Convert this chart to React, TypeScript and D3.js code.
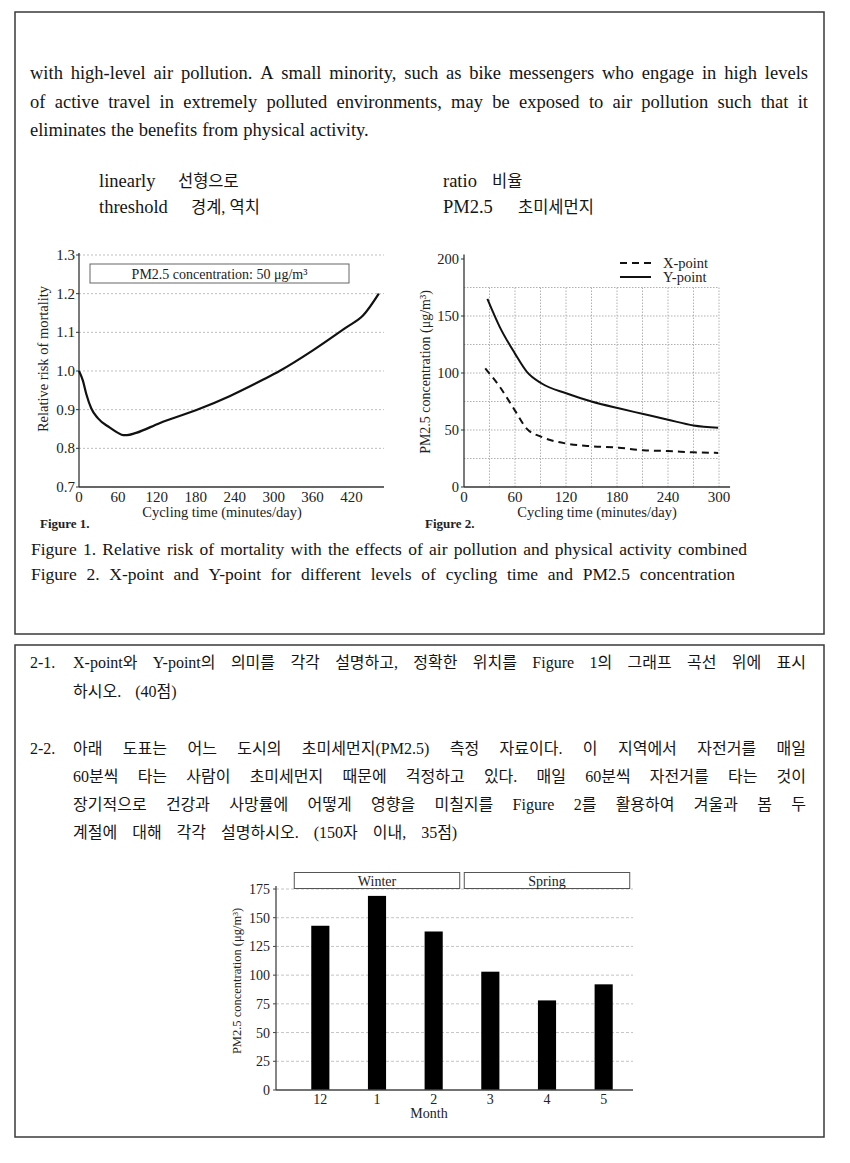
import React from 'react';
import * as d3 from 'd3';

const SERIF = "'Liberation Serif', 'Times New Roman', serif";
const MIX = "'Liberation Serif', 'Noto Sans CJK KR', serif";

// ---------- text content ----------
const passageLines = [
  'with high-level air pollution. A small minority, such as bike messengers who engage in high levels',
  'of active travel in extremely polluted environments, may be exposed to air pollution such that it',
  'eliminates the benefits from physical activity.',
];
const vocabLeft = [
  ['linearly', '선형으로'],
  ['threshold', '경계, 역치'],
];
const vocabRight = [
  ['ratio', '비율'],
  ['PM2.5', '초미세먼지'],
];
const captions = [
  'Figure 1. Relative risk of mortality with the effects of air pollution and physical activity combined',
  'Figure 2. X-point and Y-point for different levels of cycling time and PM2.5 concentration',
];
const q1Num = '2-1.';
const q1Lines = [
  'X-point와 Y-point의 의미를 각각 설명하고, 정확한 위치를 Figure 1의 그래프 곡선 위에 표시',
  '하시오. (40점)',
];
const q2Num = '2-2.';
const q2Lines = [
  '아래 도표는 어느 도시의 초미세먼지(PM2.5) 측정 자료이다. 이 지역에서 자전거를 매일',
  '60분씩 타는 사람이 초미세먼지 때문에 걱정하고 있다. 매일 60분씩 자전거를 타는 것이',
  '장기적으로 건강과 사망률에 어떻게 영향을 미칠지를 Figure 2를 활용하여 겨울과 봄 두',
  '계절에 대해 각각 설명하시오. (150자 이내, 35점)',
];

// ---------- Figure 1 data ----------
const fig1XTicks = [0, 60, 120, 180, 240, 300, 360, 420];
const fig1YTicks = [0.7, 0.8, 0.9, 1.0, 1.1, 1.2, 1.3];
const fig1Time = [0, 6, 11, 19, 29, 47, 60, 68, 74, 88, 124, 181, 232, 284, 309, 361, 412, 438, 462];
const fig1Risk = [1.0, 0.975, 0.942, 0.903, 0.878, 0.854, 0.84, 0.834, 0.834, 0.84, 0.865, 0.899, 0.935, 0.978, 1.0, 1.054, 1.113, 1.144, 1.2];
const fig1Legend = 'PM2.5 concentration: 50 μg/m³';

// ---------- Figure 2 data ----------
const fig2XTicks = [0, 60, 120, 180, 240, 300];
const fig2YTicks = [0, 50, 100, 150, 200];
const fig2XGrid = [30, 60, 90, 120, 150, 180, 210, 240, 270, 300];
const fig2YGrid = [25, 50, 75, 100, 125, 150, 175];
const xPointTime = [25, 42, 60, 74, 91, 121, 150, 182, 211, 240, 270, 299];
const xPointConc = [104, 88, 67, 51, 44, 38, 35.7, 34.5, 32.2, 31.6, 30.4, 29.9];
const yPointTime = [27.5, 42, 60, 74, 91, 121, 150, 182, 211, 240, 270, 299];
const yPointConc = [165, 140.5, 117, 101, 91, 82, 75, 69, 64, 59, 54, 52];

// ---------- Bar chart data ----------
const months = ['12', '1', '2', '3', '4', '5'];
const monthlyPM = [143, 169, 138, 103, 78, 92];
const seasonNames = ['Winter', 'Spring'];
const seasonMonths = [['12', '1', '2'], ['3', '4', '5']];
const barYTicks = [0, 25, 50, 75, 100, 125, 150, 175];

// ---------- helpers ----------
let _ctx: CanvasRenderingContext2D | null = null;
function textWidth(s: string, size: number, family: string) {
  if (!_ctx) _ctx = document.createElement('canvas').getContext('2d');
  _ctx!.font = `normal ${size}px ${family}`;
  return _ctx!.measureText(s).width;
}

function JLine({ text, x, y, width, size, family, justify = true, space = 0 }: any) {
  const words = text.split(' ');
  const ws = words.map((w: string) => textWidth(w, size, family));
  let gap: number;
  let s = 1;
  if (!justify || words.length < 2) {
    gap = space || size * 0.3;
  } else {
    const total = d3.sum(ws) as number;
    const minGap = size * 0.22;
    gap = (width - total) / (words.length - 1);
    if (gap < minGap) {
      gap = minGap;
      s = (width - minGap * (words.length - 1)) / total;
    }
  }
  let cx = x;
  return (
    <g>
      {words.map((w: string, i: number) => {
        const px = cx;
        cx += ws[i] * s + gap;
        return (
          <text
            key={i}
            x={px}
            y={y}
            fontSize={size}
            fontFamily={family}
            fill="#151515"
            textLength={s < 1 ? ws[i] * s : undefined}
            lengthAdjust="spacingAndGlyphs"
          >
            {w}
          </text>
        );
      })}
    </g>
  );
}

// ---------- Figure 1 ----------
function Figure1() {
  const x = d3.scaleLinear().domain([0, 470]).range([79, 384]);
  const y = d3.scaleLinear().domain([0.7, 1.3]).range([487, 255]);
  const pts = fig1Time.map((t, i) => [t, fig1Risk[i]] as [number, number]);
  const line = d3
    .line<[number, number]>()
    .x((d) => x(d[0]))
    .y((d) => y(d[1]))
    .curve(d3.curveMonotoneX);
  return (
    <g fontFamily={SERIF} fill="#222">
      {fig1YTicks.slice(1).map((v) => (
        <line key={v} x1={x(0)} x2={x(470)} y1={y(v)} y2={y(v)} stroke="#bdbdbd" strokeWidth={1} strokeDasharray="2,2" />
      ))}
      <line x1={x(0)} x2={x(0)} y1={y(0.7)} y2={y(1.3) - 2} stroke="#333" strokeWidth={1.3} />
      <line x1={x(0)} x2={x(470)} y1={y(0.7)} y2={y(0.7)} stroke="#333" strokeWidth={1.3} />
      {fig1YTicks.map((v) => (
        <g key={v}>
          <line x1={x(0) - 3} x2={x(0)} y1={y(v)} y2={y(v)} stroke="#333" />
          <text x={x(0) - 4} y={y(v) + 5} fontSize={15} textAnchor="end">
            {v.toFixed(1)}
          </text>
        </g>
      ))}
      {fig1XTicks.map((v) => (
        <text key={v} x={x(v)} y={502} fontSize={15} textAnchor="middle">
          {v}
        </text>
      ))}
      <text x={222} y={517} fontSize={14.5} textAnchor="middle">
        Cycling time (minutes/day)
      </text>
      <text transform={`translate(48,359) rotate(-90)`} fontSize={14.5} textAnchor="middle">
        Relative risk of mortality
      </text>
      <rect x={90} y={264} width={259} height={19} fill="#fff" stroke="#666" strokeWidth={1} />
      <text x={219.5} y={278.5} fontSize={14} textAnchor="middle">
        {fig1Legend}
      </text>
      <path d={line(pts) || ''} fill="none" stroke="#111" strokeWidth={2.2} strokeLinejoin="round" />
      <text x={40} y={528} fontSize={13} fontWeight="bold">
        Figure 1.
      </text>
    </g>
  );
}

// ---------- Figure 2 ----------
function Figure2() {
  const x = d3.scaleLinear().domain([0, 300]).range([464, 719]);
  const y = d3.scaleLinear().domain([0, 200]).range([487, 259]);
  const line = d3
    .line<[number, number]>()
    .x((d) => x(d[0]))
    .y((d) => y(d[1]))
    .curve(d3.curveMonotoneX);
  const xp = xPointTime.map((t, i) => [t, xPointConc[i]] as [number, number]);
  const yp = yPointTime.map((t, i) => [t, yPointConc[i]] as [number, number]);
  return (
    <g fontFamily={SERIF} fill="#222">
      {fig2YGrid.map((v) => (
        <line key={'h' + v} x1={x(0)} x2={x(300)} y1={y(v)} y2={y(v)} stroke="#b0b0b0" strokeWidth={1} strokeDasharray="1.5,1.5" />
      ))}
      {fig2XGrid.map((v) => (
        <line key={'v' + v} x1={x(v)} x2={x(v)} y1={y(0)} y2={y(175)} stroke="#b0b0b0" strokeWidth={1} strokeDasharray="1.5,1.5" />
      ))}
      <line x1={x(0)} x2={x(0)} y1={y(0)} y2={y(204)} stroke="#333" strokeWidth={1.3} />
      <line x1={x(0)} x2={x(313)} y1={y(0)} y2={y(0)} stroke="#333" strokeWidth={1.3} />
      {fig2YTicks.map((v) => (
        <g key={v}>
          <line x1={x(0) - 3} x2={x(0)} y1={y(v)} y2={y(v)} stroke="#333" />
          <text x={x(0) - 5} y={y(v) + 5} fontSize={14.5} textAnchor="end">
            {v}
          </text>
        </g>
      ))}
      {fig2XTicks.map((v) => (
        <text key={v} x={x(v)} y={502} fontSize={15} textAnchor="middle">
          {v}
        </text>
      ))}
      <text x={597} y={517} fontSize={14.5} textAnchor="middle">
        Cycling time (minutes/day)
      </text>
      <text transform={`translate(430,372) rotate(-90)`} fontSize={14} textAnchor="middle">
        PM2.5 concentration (μg/m³)
      </text>
      <path d={line(xp) || ''} fill="none" stroke="#111" strokeWidth={2} strokeDasharray="7,5" />
      <path d={line(yp) || ''} fill="none" stroke="#111" strokeWidth={2} />
      <line x1={620} x2={651} y1={263} y2={263} stroke="#111" strokeWidth={2} strokeDasharray="7,5" />
      <text x={663} y={268} fontSize={14.5}>
        X-point
      </text>
      <line x1={620} x2={651} y1={277} y2={277} stroke="#111" strokeWidth={2} />
      <text x={663} y={282} fontSize={14.5}>
        Y-point
      </text>
      <text x={425} y={528} fontSize={13} fontWeight="bold">
        Figure 2.
      </text>
    </g>
  );
}

// ---------- Bar chart ----------
function BarChart() {
  const x = d3.scaleBand<string>().domain(months).range([292, 632]).paddingInner(0.68).paddingOuter(0.34);
  const y = d3.scaleLinear().domain([0, 175]).range([1090, 889]);
  const step = x.step();
  return (
    <g fontFamily={SERIF} fill="#222">
      {barYTicks.slice(1).map((v) => (
        <line key={v} x1={276} x2={633} y1={y(v)} y2={y(v)} stroke="#c4c4c4" strokeWidth={1} strokeDasharray="3,2" />
      ))}
      <line x1={276} x2={276} y1={y(0)} y2={y(175) - 3} stroke="#444" strokeWidth={1.3} />
      {barYTicks.map((v) => (
        <g key={v}>
          <line x1={273} x2={276} y1={y(v)} y2={y(v)} stroke="#444" />
          <text x={270} y={y(v) + 5} fontSize={14} textAnchor="end">
            {v}
          </text>
        </g>
      ))}
      {months.map((m, i) => (
        <rect key={m} x={x(m)} y={y(monthlyPM[i])} width={x.bandwidth()} height={y(0) - y(monthlyPM[i])} fill="#000" />
      ))}
      <line x1={276} x2={633} y1={y(0)} y2={y(0)} stroke="#444" strokeWidth={1.3} />
      {months.map((m) => (
        <text key={m} x={(x(m) as number) + x.bandwidth() / 2} y={1104} fontSize={14} textAnchor="middle">
          {m}
        </text>
      ))}
      <text x={429} y={1118} fontSize={14} textAnchor="middle">
        Month
      </text>
      <text transform={`translate(241,981) rotate(-90)`} fontSize={12.5} textAnchor="middle">
        PM2.5 concentration (μg/m³)
      </text>
      {seasonNames.map((s, i) => {
        const ms = seasonMonths[i];
        const c0 = (x(ms[0]) as number) + x.bandwidth() / 2 - step * 0.46;
        const c1 = (x(ms[ms.length - 1]) as number) + x.bandwidth() / 2 + step * 0.46;
        return (
          <g key={s}>
            <rect x={c0} y={872.5} width={c1 - c0} height={16} fill="#fff" stroke="#555" strokeWidth={1} />
            <text x={(c0 + c1) / 2} y={885.5} fontSize={14} textAnchor="middle">
              {s}
            </text>
          </g>
        );
      })}
    </g>
  );
}

export default function App() {
  const passageY = [79, 107.5, 135.5];
  const capY = [555, 580];
  const KS = 16;
  return (
    <svg
      width={850}
      height={1163}
      viewBox="0 0 850 1163"
      style={{ position: 'absolute', left: 0, top: 0, background: '#fff' }}
    >
      <rect x={0} y={0} width={850} height={1163} fill="#fff" />
      {/* boxes */}
      <rect x={15} y={12} width={809} height={622} fill="none" stroke="#3a3a3a" strokeWidth={1.5} />
      <rect x={15} y={645} width={809} height={492} fill="none" stroke="#3a3a3a" strokeWidth={1.5} />

      {/* passage */}
      {passageLines.map((l, i) => (
        <JLine key={i} text={l} x={30} y={passageY[i]} width={778} size={18.5} family={SERIF} justify={i < 2} space={5} />
      ))}

      {/* vocab */}
      {vocabLeft.map((v, i) => (
        <g key={'l' + i}>
          <text x={99} y={187 + i * 26} fontSize={18.5} fontFamily={SERIF} fill="#151515">
            {v[0]}
          </text>
          <text x={i === 0 ? 178 : 191} y={187 + i * 26} fontSize={16.5} fontFamily={MIX} fill="#151515">
            {v[1]}
          </text>
        </g>
      ))}
      {vocabRight.map((v, i) => (
        <g key={'r' + i}>
          <text x={443} y={187 + i * 26} fontSize={18.5} fontFamily={SERIF} fill="#151515">
            {v[0]}
          </text>
          <text x={i === 0 ? 492 : 518} y={187 + i * 26} fontSize={16.5} fontFamily={MIX} fill="#151515">
            {v[1]}
          </text>
        </g>
      ))}

      <Figure1 />
      <Figure2 />

      {/* captions */}
      <JLine text={captions[0]} x={31} y={capY[0]} width={716} size={17.5} family={SERIF} />
      <JLine text={captions[1]} x={31} y={capY[1]} width={704} size={17.5} family={SERIF} />

      {/* questions */}
      <text x={30} y={668} fontSize={KS} fontFamily={MIX} fill="#151515">
        {q1Num}
      </text>
      <JLine text={q1Lines[0]} x={73} y={668} width={733} size={KS} family={MIX} />
      <JLine text={q1Lines[1]} x={73} y={697} width={733} size={KS} family={MIX} justify={false} space={14} />

      <text x={30} y={754} fontSize={KS} fontFamily={MIX} fill="#151515">
        {q2Num}
      </text>
      {q2Lines.map((l, i) => (
        <JLine key={i} text={l} x={73} y={754 + i * 28} width={733} size={KS} family={MIX} justify={i < 3} space={15} />
      ))}

      <BarChart />
    </svg>
  );
}
